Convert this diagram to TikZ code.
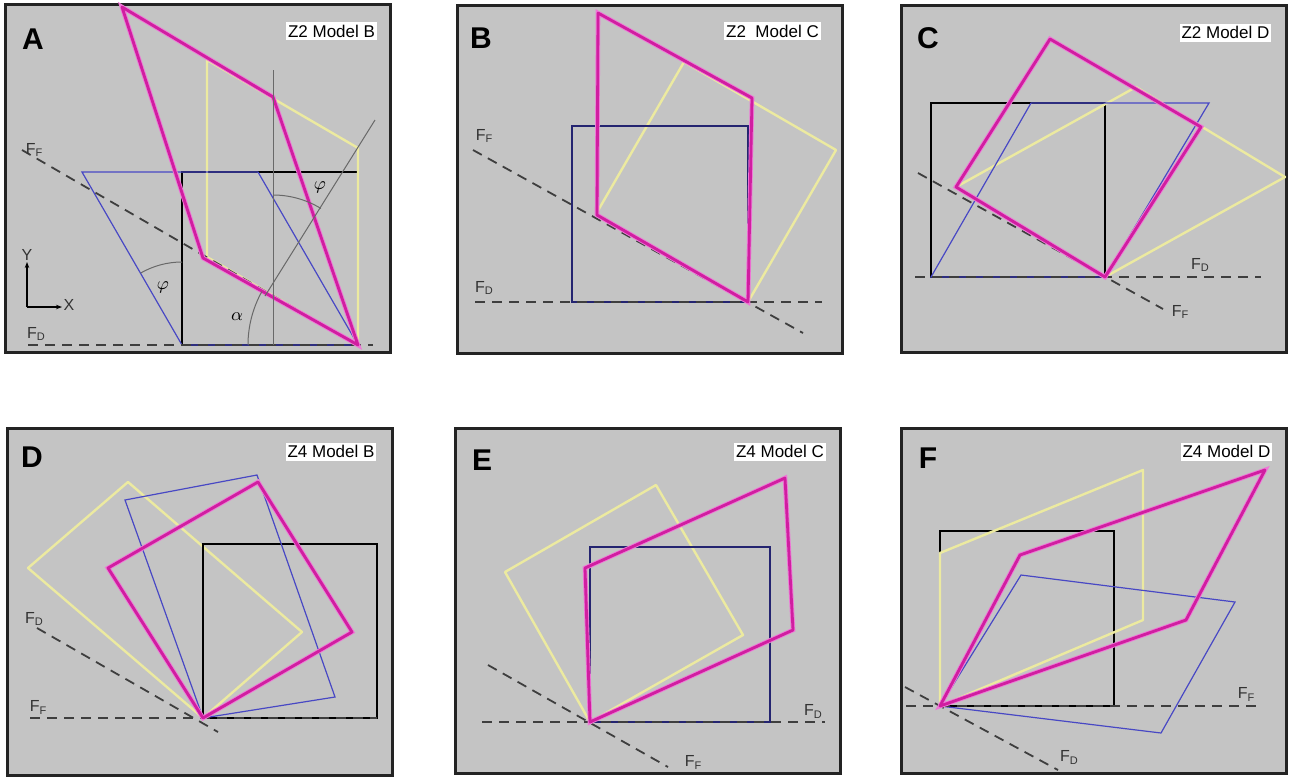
\documentclass[tikz,border=0pt]{standalone}
\usepackage{fontspec}
\setmainfont{Liberation Sans}
\usepackage{amsmath}
\usetikzlibrary{arrows.meta}
\definecolor{panelgray}{RGB}{196,196,196}
\definecolor{framegray}{RGB}{35,35,35}
\definecolor{shearmag}{RGB}{208,30,160}
\definecolor{shearpink}{RGB}{238,120,215}
\definecolor{rotyellow}{RGB}{236,234,160}
\definecolor{initblue}{RGB}{72,72,196}
\definecolor{navyblue}{RGB}{36,36,112}
\definecolor{dashgray}{RGB}{62,62,62}
\definecolor{guidegray}{RGB}{105,105,105}
\newcommand{\Fsub}[1]{F\raisebox{-0.35ex}{\fontsize{5.5}{6}\selectfont #1}}

\begin{document}
\begin{tikzpicture}[x=0.5pt,y=-0.5pt,
    panel/.style={draw=framegray,line width=1.5pt,fill=panelgray},
    sqbox/.style={draw=black,line width=1pt},
    navybox/.style={draw=navyblue,line width=1pt},
    shearline/.style={draw=shearmag,line width=1.4pt,line join=round,
      preaction={draw=shearpink,line width=2.3pt}},
    rotline/.style={draw=rotyellow,line width=1.2pt,line join=round},
    blueline/.style={draw=initblue,line width=0.6pt},
    forceline/.style={draw=dashgray,line width=0.9pt,dash pattern=on 5pt off 3.5pt},
    guide/.style={draw=guidegray,line width=0.5pt},
    letter/.style={font=\fontsize{15}{15}\selectfont\bfseries,inner sep=0pt},
    tag/.style={fill=white,inner sep=1pt,minimum height=9pt,font=\fontsize{8.5}{9}\selectfont},
    flabel/.style={font=\fontsize{8}{9}\selectfont,inner sep=0pt,text=black!80}]

  \fill[white] (0,0) rectangle (1289,778);
  \useasboundingbox (0,0) rectangle (1289,778);

  % A: Z2 model B
  \draw[panel] (5,4) rectangle (390,352);
  \coordinate (pa) at (358,345);
  \draw[sqbox] (182,172) rectangle (pa);
  \draw[rotline] (207,257) -- (207,60) -- (358,148) -- (pa) -- cycle;
  \draw[blueline] (182,345) -- (pa) -- (258,172) -- (82,172) -- cycle;
  \draw[forceline] (28,345) -- (373,345);
  \draw[forceline] (22,150) -- (pa);
  \draw[shearline] (122,7) -- (273,97) -- (pa) -- (203,258) -- cycle;
  \draw[guide] (273,70) -- (273,345);
  \draw[guide] (375,120) -- (265,296);
  \draw[guide] (273,287) ++(-58.6:92) arc[start angle=-58.6,end angle=-90,radius=92];
  \draw[guide] (182,345) ++(-90:83) arc[start angle=-90,end angle=-120,radius=83];
  \draw[guide] (pa) ++(-180:110) arc[start angle=-180,end angle=-151,radius=110];
  \node (phia) at (320,187) {\small$\varphi$};
  \node (phib) at (163,287) {\small$\varphi$};
  \node (alfa) at (237,317) {\small$\alpha$};
  \coordinate (ax) at (27,307);
  \draw[-{Stealth[length=3pt]},line width=0.6pt] (ax) -- (27,262);
  \draw[-{Stealth[length=3pt]},line width=0.6pt] (ax) -- (62,307);
  \node[flabel] (ya) at (27,255) {Y};
  \node[flabel] (xa) at (69,305) {X};
  \node[flabel] (ffa) at (34,150) {\Fsub{F}};
  \node[flabel] (fda) at (36,334) {\Fsub{D}};
  \node[letter] (la) at (33,39) {A};
  \node[tag] (ta) at (331.5,31) {Z2 Model B};

  % B: Z2 model C
  \draw[panel] (457,5) rectangle (842,353);
  \coordinate (pb) at (748,302);
  \draw[rotline] (pb) -- (836,150) -- (684,62) -- (596,214) -- cycle;
  \draw[navybox] (572,126) rectangle (pb);
  \draw[forceline] (475,302) -- (822,302);
  \draw[forceline] (473,150) -- (803,333);
  \draw[shearline] (598,13) -- (752,98) -- (pb) -- (597,215) -- cycle;
  \node[flabel] (ffb) at (484,136) {\Fsub{F}};
  \node[flabel] (fdb) at (484,288) {\Fsub{D}};
  \node[letter] (lb) at (481,38) {B};
  \node[tag] (tb) at (772.5,31) {Z2\ \ Model C};

  % C: Z2 model D
  \draw[panel] (901,5) rectangle (1286,352);
  \coordinate (pc) at (1105,277);
  \draw[sqbox] (931,103) rectangle (pc);
  \draw[rotline] (pc) -- (1285,177) -- (1136,87) -- (956,187) -- cycle;
  \draw[blueline] (931,277) -- (pc) -- (1209,103) -- (1031,103) -- cycle;
  \draw[forceline] (915,277) -- (1261,277);
  \draw[forceline] (918,173) -- (1163,309);
  \draw[shearline] (956,187) -- (1050,39) -- (1201,127) -- (pc) -- cycle;
  \node[flabel] (fdc) at (1200,265) {\Fsub{D}};
  \node[flabel] (ffc) at (1180,312) {\Fsub{F}};
  \node[letter] (lc) at (928,38) {C};
  \node[tag] (tc) at (1225.5,32.5) {Z2 Model D};

  % D: Z4 model B
  \draw[panel] (7,428) rectangle (392,775);
  \coordinate (pd) at (203,718);
  \draw[rotline] (pd) -- (302,632) -- (128,482) -- (28,568) -- cycle;
  \draw[sqbox] (203,544) rectangle (377,718);
  \draw[blueline] (pd) -- (335,697) -- (257,475) -- (125,500) -- cycle;
  \draw[forceline] (30,718) -- (377,718);
  \draw[forceline] (37,628) -- (218,732);
  \draw[shearline] (pd) -- (352,632) -- (258,482) -- (108,568) -- cycle;
  \node[flabel] (fdd) at (34,619) {\Fsub{D}};
  \node[flabel] (ffd) at (38,707) {\Fsub{F}};
  \node[letter] (ld) at (32,457) {D};
  \node[tag] (td) at (331,451.5) {Z4 Model B};

  % E: Z4 model C
  \draw[panel] (455,428) rectangle (840,773);
  \coordinate (pe) at (590,722);
  \draw[rotline] (pe) -- (743,635) -- (656,485) -- (505,572) -- cycle;
  \draw[navybox] (590,547) rectangle (770,722);
  \draw[forceline] (482,722) -- (825,722);
  \draw[forceline] (488,665) -- (668,767);
  \draw[shearline] (pe) -- (793,630) -- (785,478) -- (585,568) -- cycle;
  \node[flabel] (fde) at (813,711) {\Fsub{D}};
  \node[flabel] (ffe) at (693,762) {\Fsub{F}};
  \node[letter] (le) at (482,460) {E};
  \node[tag] (te) at (780,451.5) {Z4 Model C};

  % F: Z4 model D
  \draw[panel] (901,428) rectangle (1286,773);
  \coordinate (pf) at (940,706);
  \draw[sqbox] (940,531) rectangle (1114,706);
  \draw[rotline] (pf) -- (940,553) -- (1143,470) -- (1143,620) -- cycle;
  \draw[blueline] (pf) -- (1021,575) -- (1235,602) -- (1161,733) -- cycle;
  \draw[forceline] (906,706) -- (1258,706);
  \draw[forceline] (905,687) -- (1058,770);
  \draw[shearline] (pf) -- (1020,555) -- (1265,470) -- (1186,620) -- cycle;
  \node[flabel] (fff) at (1246,694) {\Fsub{F}};
  \node[flabel] (fdf) at (1069,757) {\Fsub{D}};
  \node[letter] (lf) at (928,458) {F};
  \node[tag] (tf) at (1226.5,451.5) {Z4 Model D};
\end{tikzpicture}
\end{document}
